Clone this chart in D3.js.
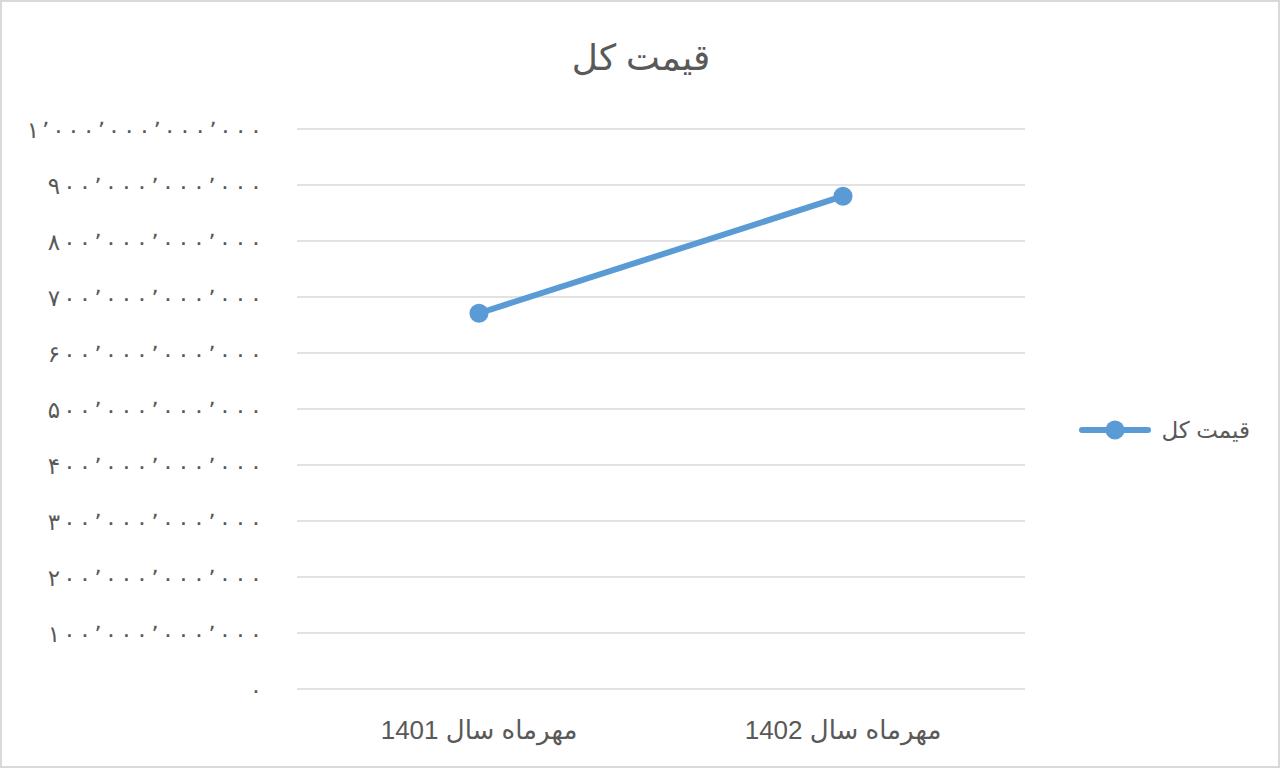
<!DOCTYPE html>
<html>
<head>
<meta charset="utf-8">
<script src="https://cdn.jsdelivr.net/npm/d3@7"></script>
<style>
  body { margin: 0; background: #fff; }
  text { font-family: "Liberation Sans", Arial, "DejaVu Sans", sans-serif; fill: #595959; }
</style>
</head>
<body>
<div id="chart"></div>
<script>
const categories = ["مهرماه سال 1401", "مهرماه سال 1402"],
    values = [671e9, 880e9],
    tickValues = [0, 1e11, 2e11, 3e11, 4e11, 5e11, 6e11, 7e11, 8e11, 9e11, 1e12],
    tickLabels = ["۰", "۱۰۰٬۰۰۰٬۰۰۰٬۰۰۰", "۲۰۰٬۰۰۰٬۰۰۰٬۰۰۰", "۳۰۰٬۰۰۰٬۰۰۰٬۰۰۰",
      "۴۰۰٬۰۰۰٬۰۰۰٬۰۰۰", "۵۰۰٬۰۰۰٬۰۰۰٬۰۰۰", "۶۰۰٬۰۰۰٬۰۰۰٬۰۰۰", "۷۰۰٬۰۰۰٬۰۰۰٬۰۰۰",
      "۸۰۰٬۰۰۰٬۰۰۰٬۰۰۰", "۹۰۰٬۰۰۰٬۰۰۰٬۰۰۰", "۱٬۰۰۰٬۰۰۰٬۰۰۰٬۰۰۰"],
    title = "قیمت کل",
    seriesName = "قیمت کل"

const w = 1280, h = 768,
    margin = {top: 129, right: 255, bottom: 79, left: 297},
    blue = "#5b9bd5"

const x = d3.scaleBand()
    .domain(categories)
    .range([margin.left, w - margin.right])
const y = d3.scaleLinear()
    .domain([0, 1e12])
    .range([h - margin.bottom, margin.top])

const svg = d3.select("#chart").append("svg")
    .attr("width", w)
    .attr("height", h)

// chart border
svg.append("rect")
    .attr("x", 1).attr("y", 1)
    .attr("width", w - 2).attr("height", h - 2)
    .attr("fill", "#fff")
    .attr("stroke", "#d9d9d9")
    .attr("stroke-width", 2)

// title
svg.append("text")
    .attr("x", 641)
    .attr("y", 70)
    .attr("text-anchor", "middle")
    .attr("direction", "rtl")
    .style("font-size", "36px")
    .text(title)

// gridlines
svg.append("g")
  .selectAll("line")
  .data(tickValues)
  .join("line")
    .attr("x1", margin.left)
    .attr("x2", w - margin.right)
    .attr("y1", d => y(d))
    .attr("y2", d => y(d))
    .attr("stroke", "#d9d9d9")
    .attr("stroke-width", 1.5)

// y axis labels, stretched out like the original (letter-spacing is ignored for arabic digits)
const yAxis = svg.append("g")
    .attr("transform", `translate(${margin.left - 35}, 0)`)
    .call(d3.axisLeft(y)
      .tickValues(tickValues)
      .tickFormat((d, i) => tickLabels[i])
      .tickSize(0)
      .tickPadding(0))
yAxis.select(".domain").remove()
yAxis.selectAll("text")
    .attr("direction", "ltr")
    .attr("dy", "0.35em")
    .style("font-size", "23px")
    .style("font-family", "\"DejaVu Sans\", sans-serif")
    .attr("fill", "#595959")
    .each(function(d, i) {
      const s = tickLabels[i],
          seps = s.split("٬").length - 1,
          digits = s.length - seps
      if (s.length > 1) {
        d3.select(this)
          .attr("textLength", digits * 16.8 + seps * 4.2)
          .attr("lengthAdjust", "spacing")
      }
    })

// x axis labels
const xAxis = svg.append("g")
    .attr("transform", `translate(0, ${h - margin.bottom})`)
    .call(d3.axisBottom(x).tickSize(0).tickPadding(0))
xAxis.select(".domain").remove()
xAxis.selectAll("text")
    .attr("y", 50)
    .attr("dy", 0)
    .attr("direction", "rtl")
    .style("font-size", "26px")
    .attr("fill", "#595959")

// series line
const pts = categories.map((c, i) => [x(c) + x.bandwidth() / 2, y(values[i])])
svg.append("path")
    .datum(pts)
    .attr("fill", "none")
    .attr("stroke", blue)
    .attr("stroke-width", 6)
    .attr("stroke-linecap", "round")
    .attr("d", d3.line())

svg.append("g")
  .selectAll("circle")
  .data(pts)
  .join("circle")
    .attr("cx", d => d[0])
    .attr("cy", d => d[1])
    .attr("r", 9.5)
    .attr("fill", blue)

// legend
const lg = svg.append("g").attr("transform", "translate(0, 430)")
lg.append("line")
    .attr("x1", 1082).attr("x2", 1148)
    .attr("stroke", blue)
    .attr("stroke-width", 6)
    .attr("stroke-linecap", "round")
lg.append("circle")
    .attr("cx", 1115).attr("r", 9.5)
    .attr("fill", blue)
lg.append("text")
    .attr("x", 1250)
    .attr("dy", "0.35em")
    .attr("text-anchor", "start")
    .attr("direction", "rtl")
    .style("font-size", "23px")
    .text(seriesName)
</script>
</body>
</html>
